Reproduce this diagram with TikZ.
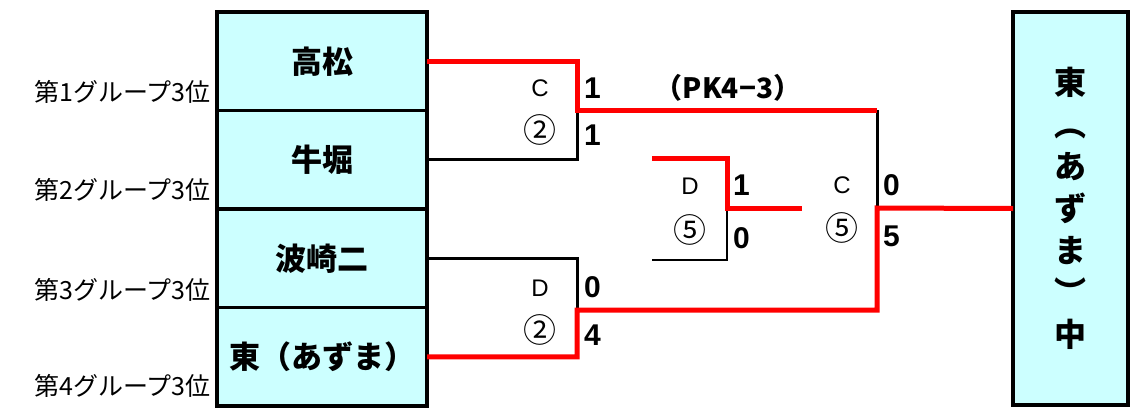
\documentclass[tikz,border=0pt]{standalone}
\usepackage{fontspec}
\setmainfont{Liberation Sans}
\newfontfamily\jpfont{Noto Sans CJK JP}
\usepackage{xcolor}
\usetikzlibrary{positioning}
\definecolor{boxcyan}{HTML}{CCFFFF}
\definecolor{winred}{HTML}{FF0000}

\begin{document}
\begin{tikzpicture}[x=1pt, y=-1pt,
    team/.style={draw, line width=3.5pt, fill=boxcyan, minimum width=210pt, minimum height=98.5pt, outer sep=0pt, inner sep=0pt, font=\jpfont\bfseries\fontsize{31}{31}\selectfont},
    champ/.style={draw, line width=3.5pt, fill=boxcyan, minimum width=115pt, minimum height=393pt, outer sep=0pt, inner sep=0pt, align=center, font=\jpfont\bfseries\fontsize{32}{42}\selectfont},
    grouplabel/.style={anchor=east, inner sep=0pt, font=\jpfont\fontsize{25}{25}\selectfont},
    court/.style={inner sep=0pt, font=\fontsize{24}{24}\selectfont},
    gameno/.style={inner sep=0pt, font=\jpfont\fontsize{33}{33}\selectfont},
    score/.style={anchor=west, inner sep=0pt, font=\bfseries\fontsize{30}{30}\selectfont},
    win/.style={draw=winred, line width=5pt},
    lose/.style={draw=black, line width=3pt},
    thinline/.style={draw=black, line width=1.5pt}]
    \useasboundingbox (0,0) rectangle (1131,407);

    % Nodes
    \node[team] (takamatsu) at (322,61.25) {高松};
    \node[team, below=0pt of takamatsu] (ushibori) {牛堀};
    \node[team, below=0pt of ushibori] (hasaki) {波崎二};
    \node[team, below=0pt of hasaki] (azuma) {東（あずま）};
    \node[champ] (champion) at (1070.5,208.5) {東\\︵\\あ\\ず\\ま\\︶\\中};

    \node[grouplabel] (g1) at (211,92) {第1グループ3位};
    \node[grouplabel] (g2) at (211,190) {第2グループ3位};
    \node[grouplabel] (g3) at (211,290) {第3グループ3位};
    \node[grouplabel] (g4) at (211,386) {第4グループ3位};

    % Corners of the bracket
    \coordinate (semi1) at (577,110);
    \coordinate (semi2) at (577,310);
    \coordinate (final) at (877,208);
    \coordinate (dtop) at (652,158);
    \coordinate (dbot) at (652,260);
    \coordinate (dmid) at (727,208);
    \coordinate (dend) at (802,208);

    % Game labels and scores
    \node[court] (c1) at (540,88) {C};
    \node[gameno] (n1) at (540,130) {②};
    \node[score] (s1a) at (584,88) {1};
    \node[score] (s1b) at (584,135) {1};
    \node[inner sep=0pt, font=\jpfont\bfseries\fontsize{28}{28}\selectfont] (pk) at (728,88) {（PK4−3）};

    \node[court] (c2) at (540,288) {D};
    \node[gameno] (n2) at (540,330) {②};
    \node[score] (s2a) at (584,287) {0};
    \node[score] (s2b) at (584,335) {4};

    \node[court] (c3) at (690,186) {D};
    \node[gameno] (n3) at (690,230) {⑤};
    \node[score] (s3a) at (733,185) {1};
    \node[score] (s3b) at (733,238) {0};

    \node[court] (c4) at (842,185) {C};
    \node[gameno] (n4) at (842,228) {⑤};
    \node[score] (s4a) at (883,185) {0};
    \node[score] (s4b) at (883,236) {5};

    % Lines
    \draw[lose] (ushibori.east) -| (semi1);
    \draw[lose] (hasaki.east) -| (semi2);
    \draw[lose] (semi1 -| final) -- (final);
    \draw[win] (takamatsu.east) -| (semi1) -- (semi1 -| final);
    \draw[win] (azuma.east) -| (semi2) -- (semi2 -| final) -- (final) -- (champion.west);
    \draw[thinline] (dmid) |- (dbot);
    \draw[win] (dtop) -| (dmid) -- (dend);
\end{tikzpicture}
\end{document}
